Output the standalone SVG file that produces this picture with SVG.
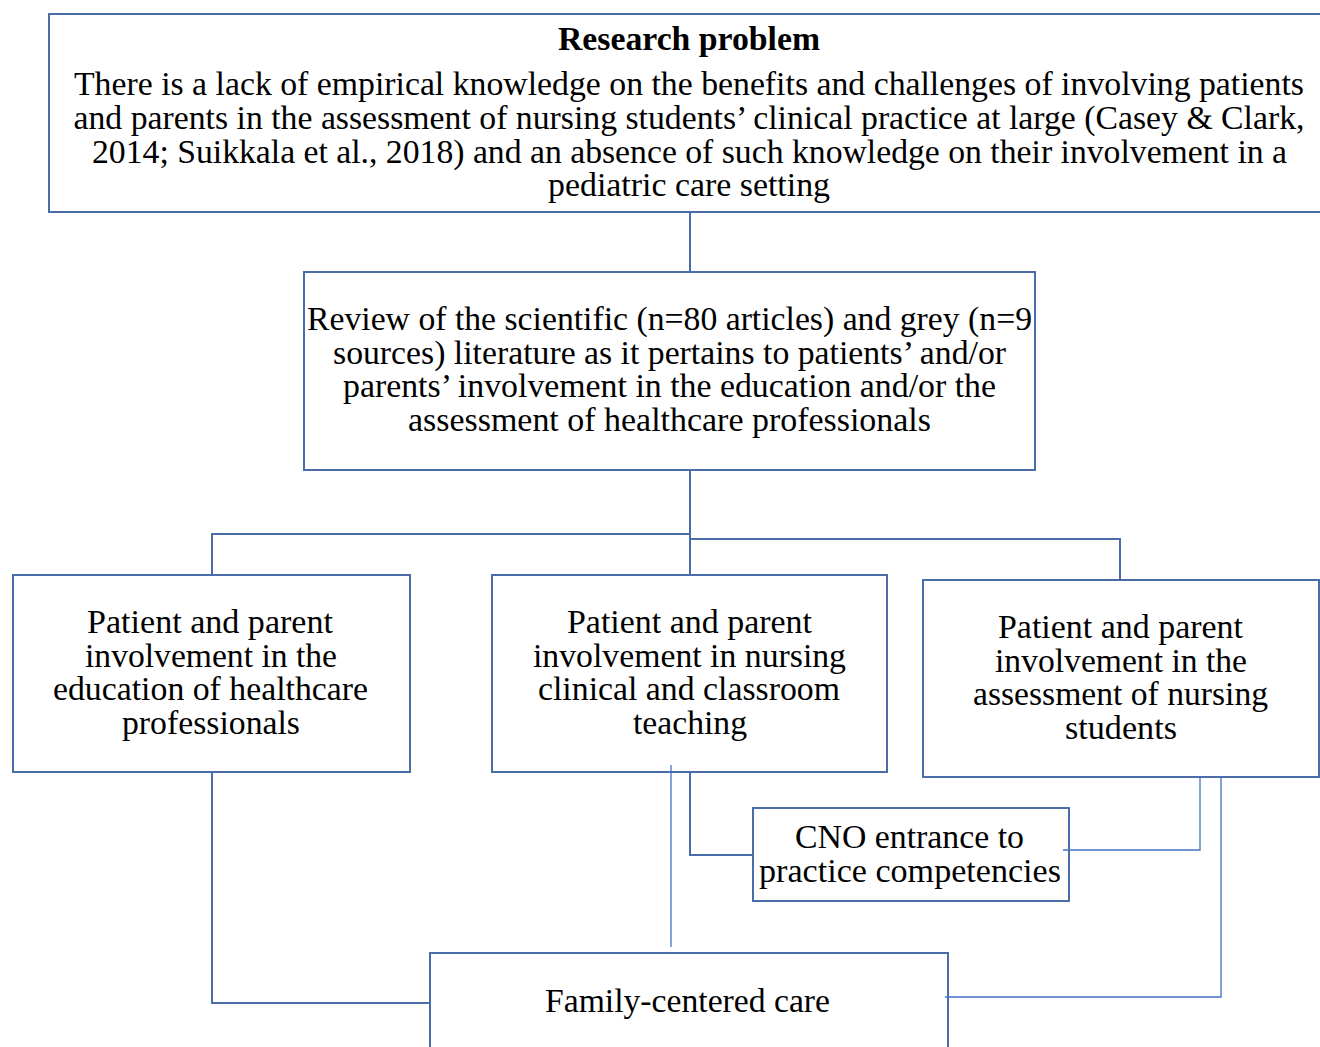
<svg xmlns="http://www.w3.org/2000/svg" width="1320" height="1047" viewBox="0 0 1320 1047">
<style>
.box{fill:#ffffff;stroke:#4a6daa;stroke-width:2}
.c{fill:none;stroke:#4a6daa;stroke-width:2}
.t{fill:none;stroke:#4472c4;stroke-width:1.3}
text{font-family:"Liberation Serif","Times New Roman",serif;font-size:34px;fill:#000;text-anchor:middle}
.b{font-weight:bold}
</style>
<rect width="1320" height="1047" fill="#ffffff"/>
<g id="node-research-problem">
<rect class="box" x="49" y="14" width="1280" height="198"/>
<text class="b" x="689" y="50" textLength="262" lengthAdjust="spacingAndGlyphs">Research problem</text>
<text x="689" y="95" textLength="1230" lengthAdjust="spacingAndGlyphs">There is a lack of empirical knowledge on the benefits and challenges of involving patients</text>
<text x="689" y="129" textLength="1231" lengthAdjust="spacingAndGlyphs">and parents in the assessment of nursing students’ clinical practice at large (Casey &amp; Clark,</text>
<text x="689.5" y="162.7" textLength="1195" lengthAdjust="spacingAndGlyphs">2014; Suikkala et al., 2018) and an absence of such knowledge on their involvement in a</text>
<text x="689" y="196.4" textLength="282" lengthAdjust="spacingAndGlyphs">pediatric care setting</text>
</g>
<g id="node-review">
<rect class="box" x="304" y="272" width="731" height="198"/>
<text x="669.5" y="330" textLength="725" lengthAdjust="spacingAndGlyphs">Review of the scientific (n=80 articles) and grey (n=9</text>
<text x="669.5" y="363.7" textLength="673" lengthAdjust="spacingAndGlyphs">sources) literature as it pertains to patients’ and/or</text>
<text x="669.5" y="397.4" textLength="653" lengthAdjust="spacingAndGlyphs">parents’ involvement in the education and/or the</text>
<text x="669.5" y="431" textLength="523" lengthAdjust="spacingAndGlyphs">assessment of healthcare professionals</text>
</g>
<g id="node-education">
<rect class="box" x="13" y="575" width="397" height="197"/>
<text x="210" y="633" textLength="246" lengthAdjust="spacingAndGlyphs">Patient and parent</text>
<text x="211" y="666.5" textLength="252" lengthAdjust="spacingAndGlyphs">involvement in the</text>
<text x="210.5" y="700" textLength="315" lengthAdjust="spacingAndGlyphs">education of healthcare</text>
<text x="211" y="733.5" textLength="178" lengthAdjust="spacingAndGlyphs">professionals</text>
</g>
<g id="node-teaching">
<rect class="box" x="492" y="575" width="395" height="197"/>
<text x="689.5" y="633" textLength="245" lengthAdjust="spacingAndGlyphs">Patient and parent</text>
<text x="689.5" y="666.5" textLength="313" lengthAdjust="spacingAndGlyphs">involvement in nursing</text>
<text x="689" y="700" textLength="302" lengthAdjust="spacingAndGlyphs">clinical and classroom</text>
<text x="690" y="733.5" textLength="114" lengthAdjust="spacingAndGlyphs">teaching</text>
</g>
<g id="node-assessment">
<rect class="box" x="923" y="580" width="396" height="197"/>
<text x="1120.5" y="638" textLength="245" lengthAdjust="spacingAndGlyphs">Patient and parent</text>
<text x="1121" y="671.5" textLength="252" lengthAdjust="spacingAndGlyphs">involvement in the</text>
<text x="1120.5" y="705" textLength="295" lengthAdjust="spacingAndGlyphs">assessment of nursing</text>
<text x="1121" y="738.5" textLength="112" lengthAdjust="spacingAndGlyphs">students</text>
</g>
<g id="node-cno">
<rect class="box" x="753" y="808" width="316" height="93"/>
<text x="909.5" y="848" textLength="229" lengthAdjust="spacingAndGlyphs">CNO entrance to</text>
<text x="910" y="881.5" textLength="302" lengthAdjust="spacingAndGlyphs">practice competencies</text>
</g>
<g id="node-family">
<rect class="box" x="430" y="953" width="518" height="110"/>
<text x="687.5" y="1012" textLength="285" lengthAdjust="spacingAndGlyphs">Family-centered care</text>
</g>
<g id="connectors">
<path class="c" d="M690 213V271"/>
<path class="c" d="M690 471V574"/>
<path class="c" d="M690 534H212V574"/>
<path class="c" d="M690 539H1120V579"/>
<path class="c" d="M690 773V855H752"/>
<path class="t" d="M671 765V947"/>
<path class="t" d="M1200 778V850H1063"/>
<path class="t" d="M1221 778V997H945"/>
<path class="c" d="M212 773V1003H429"/>
</g>
</svg>
